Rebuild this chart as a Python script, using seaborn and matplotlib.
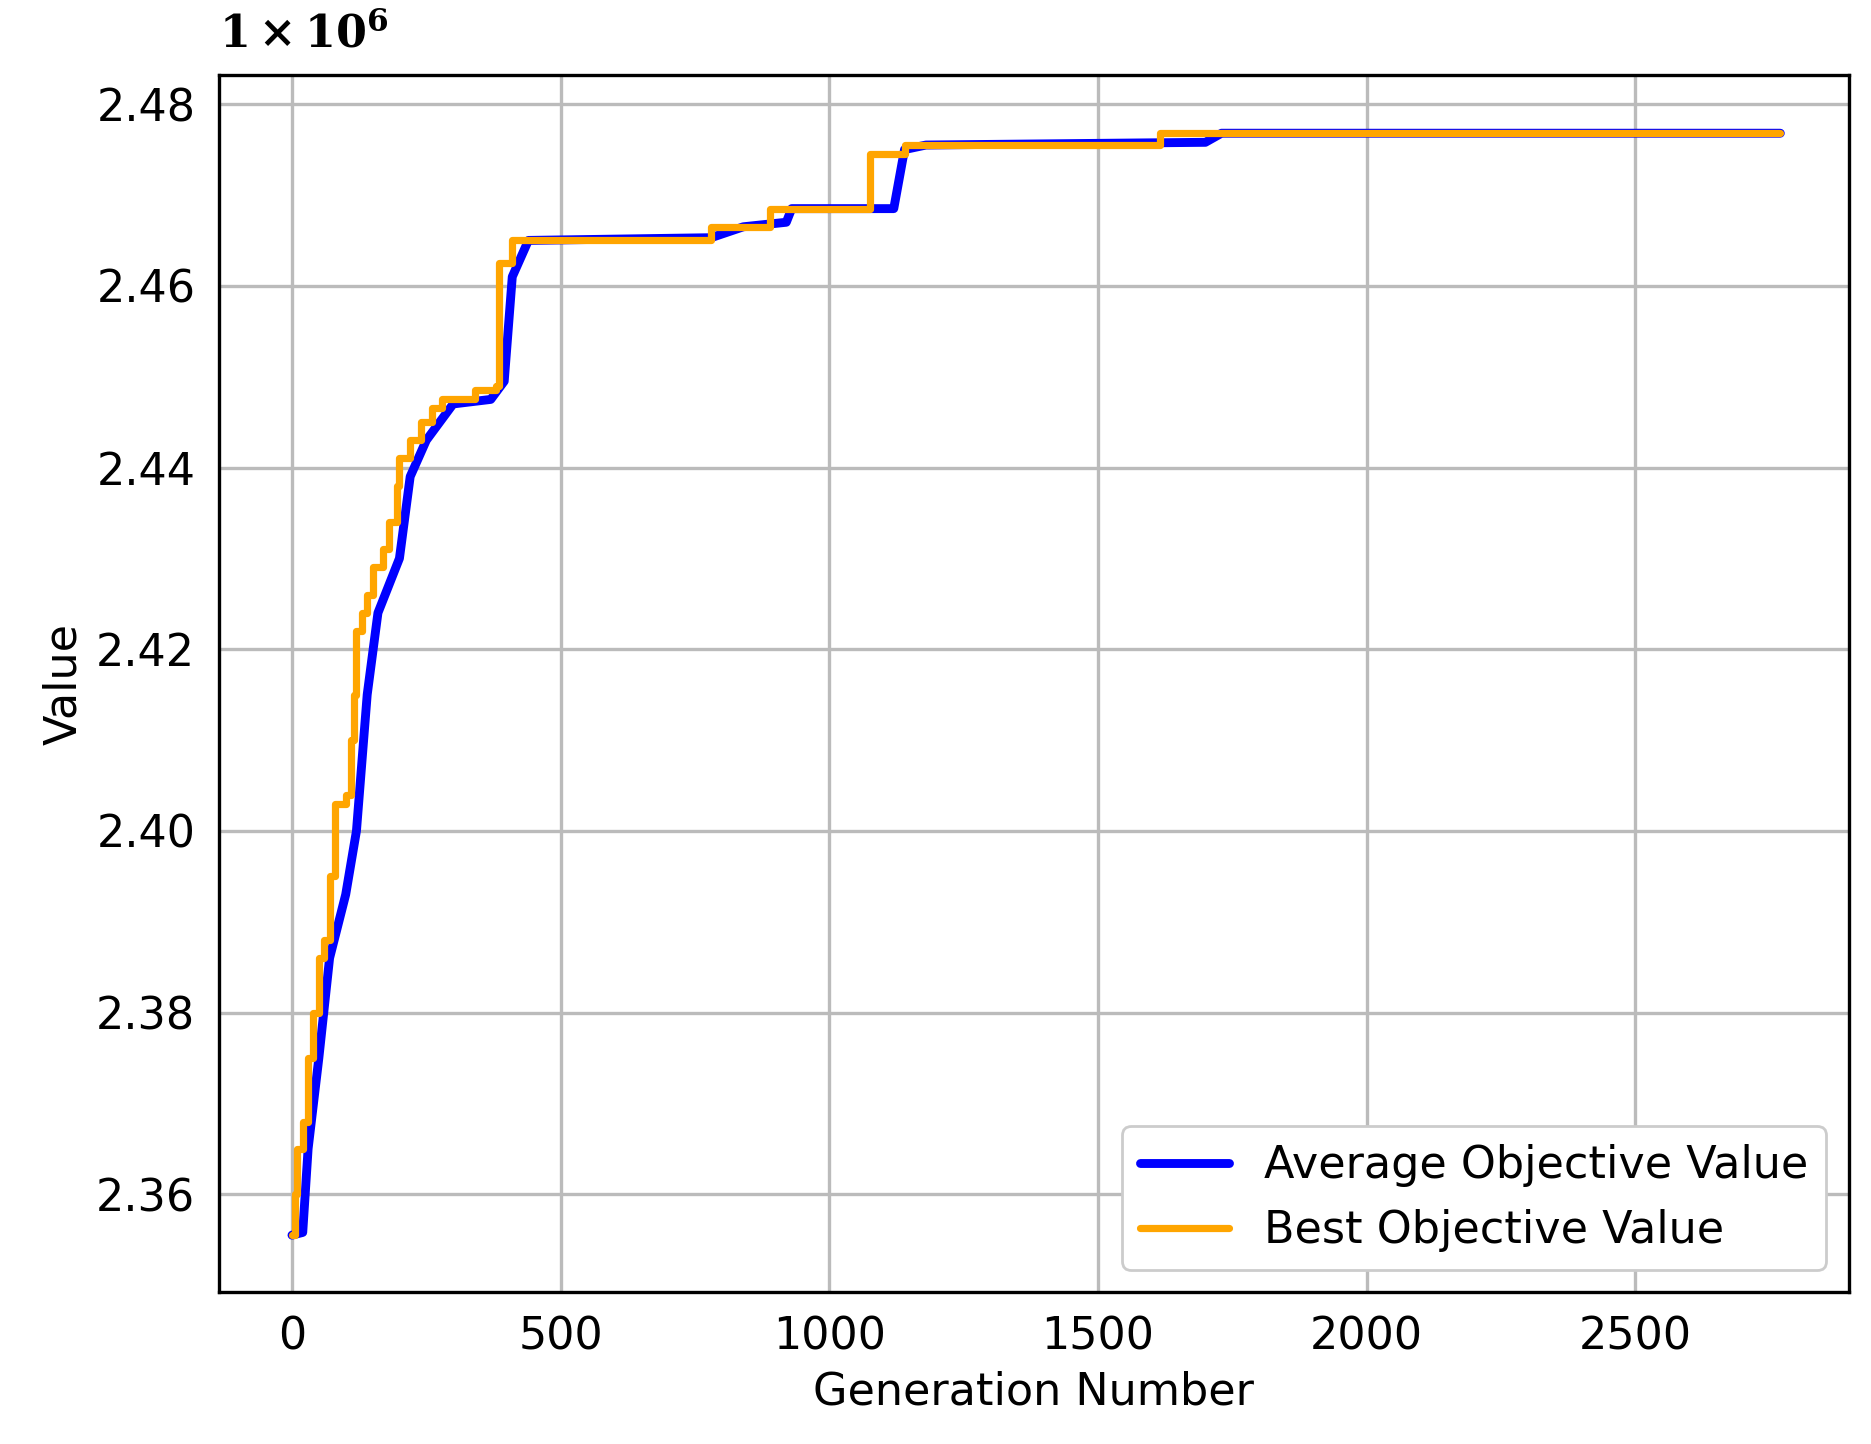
import seaborn as sns
import matplotlib.pyplot as plt
import pandas as pd

# values in units of 1e6
avg_gen = [0, 20, 30, 50, 70, 100, 120, 140, 160, 200, 220, 250, 300, 370, 395, 410, 440,
           780, 840, 920, 930, 1120, 1140, 1180, 1700, 1730, 2770]
avg_val = [2.3555, 2.3558, 2.365, 2.375, 2.386, 2.393, 2.400, 2.415, 2.424, 2.430, 2.439, 2.443,
           2.447, 2.4475, 2.4495, 2.461, 2.465, 2.4653, 2.4665, 2.467, 2.4685, 2.4685, 2.475,
           2.4755, 2.4758, 2.4768, 2.4768]

best_gen = [0, 5, 10, 20, 30, 40, 50, 60, 70, 80, 100, 110, 115, 120, 130, 140, 150, 170, 180,
            195, 200, 220, 240, 260, 280, 340, 380, 385, 410, 780, 890, 1075, 1140, 1615, 2770]
best_val = [2.3555, 2.360, 2.365, 2.368, 2.375, 2.380, 2.386, 2.388, 2.395, 2.403, 2.404, 2.410,
            2.415, 2.422, 2.424, 2.426, 2.429, 2.431, 2.434, 2.438, 2.441, 2.443, 2.445, 2.4465,
            2.4475, 2.4485, 2.449, 2.4625, 2.465, 2.4665, 2.4685, 2.4745, 2.4755, 2.4768, 2.4768]

avg = pd.DataFrame({"gen": avg_gen, "val": avg_val})
best = pd.DataFrame({"gen": best_gen, "val": best_val})

sns.set_style("white")
plt.rcParams["font.size"] = 16
plt.rcParams["text.color"] = "black"
plt.rcParams["axes.labelcolor"] = "black"
plt.rcParams["xtick.color"] = "black"
plt.rcParams["ytick.color"] = "black"
plt.rcParams["mathtext.fontset"] = "dejavuserif"
fig, ax = plt.subplots(figsize=(9.355, 7.22), dpi=200)
fig.subplots_adjust(left=0.117, right=0.988, top=0.948, bottom=0.105)

sns.lineplot(data=avg, x="gen", y="val", ax=ax, color="blue", linewidth=3.2,
             label="Average Objective Value")
sns.lineplot(data=best, x="gen", y="val", ax=ax, color="orange", linewidth=2.6,
             drawstyle="steps-post", label="Best Objective Value")

ax.set_xlim(-136, 2897)
ax.set_ylim(2.3492, 2.4832)
ax.set_xticks([0, 500, 1000, 1500, 2000, 2500])
ax.set_yticks([2.36, 2.38, 2.40, 2.42, 2.44, 2.46, 2.48])
ax.set_yticklabels([f"{v:.2f}" for v in ax.get_yticks()])
ax.grid(True, color="#bbbbbb", linewidth=1.2)
for s in ax.spines.values():
    s.set_color("black")
    s.set_linewidth(1.2)
ax.tick_params(labelsize=16, length=5)
ax.set_xlabel("Generation Number", fontsize=16)
ax.set_ylabel("Value", fontsize=16)
ax.text(0.0, 1.015, r"$\mathbf{1\times10^{6}}$", transform=ax.transAxes, fontsize=16,
        ha="left", va="bottom")
ax.legend(loc="lower right", fontsize=16, framealpha=1, handlelength=2)

fig.savefig("out.png", dpi=200)
